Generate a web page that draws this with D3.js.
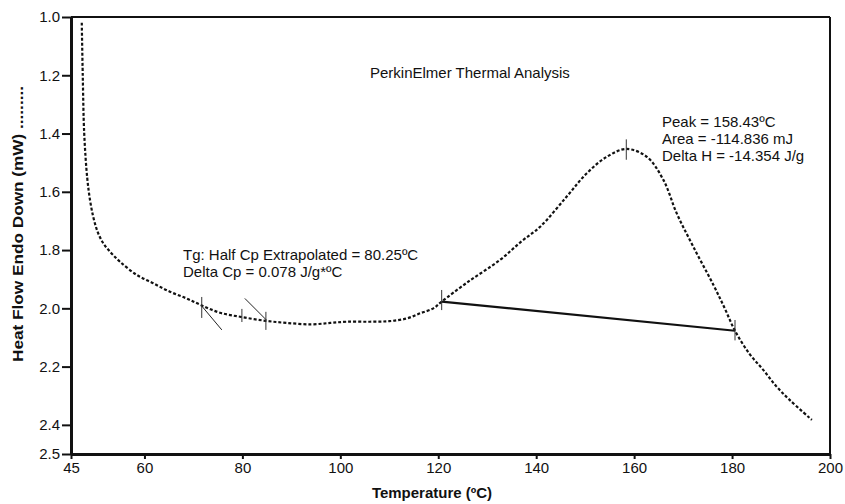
<!DOCTYPE html>
<html>
<head>
<meta charset="utf-8">
<script src="https://cdn.jsdelivr.net/npm/d3@7"></script>
<style>
  body { margin: 0; background: #fff; }
  svg { font-family: "Liberation Sans", Arial, sans-serif; }
</style>
</head>
<body>
<div id="chart"></div>
<script>
// Set dimensions of the page and the plot box
const width = 845;
const height = 504;
const margin = {left: 71, right: 15, top: 17, bottom: 50};

// DSC trace (temperature in ºC, heat flow in mW)
const temps = [47.2, 47.4, 47.7, 48.3, 48.9, 49.6, 50.5, 51.6, 53.2, 55.0, 58.4, 61.8, 65.2,
  68.6, 71.7, 75.4, 79.9, 84.8, 89.0, 94.0, 98.0, 101.3, 106, 110, 113.5, 116.3, 119.0,
  120.7, 126, 132.6, 137, 140.8, 146.2, 150.3, 154.4, 158.4, 162.6, 166.0, 168.7, 172.1,
  176.2, 178.5, 180.6, 183.5, 186.4, 189.0, 191.8, 196.3];
const heatFlow = [1.02, 1.20, 1.40, 1.55, 1.63, 1.69, 1.74, 1.777, 1.81, 1.84, 1.885, 1.914, 1.943,
  1.966, 1.99, 2.015, 2.030, 2.043, 2.050, 2.055, 2.050, 2.046, 2.046, 2.044, 2.035, 2.017, 2.000,
  1.977, 1.91, 1.834, 1.77, 1.72, 1.617, 1.537, 1.480, 1.453, 1.48, 1.56, 1.674, 1.789,
  1.920, 2.000, 2.077, 2.155, 2.212, 2.267, 2.315, 2.383];

// Peak baseline (onset -> end)
const baseT = [120.7, 180.6];
const baseH = [1.977, 2.077];

// Small vertical marker ticks: temperature, top and bottom heat flow
const markT = [71.7, 79.9, 84.8, 120.7, 158.4, 180.6];
const markTop = [1.961, 2.002, 2.012, 1.937, 1.42, 2.04];
const markBottom = [2.033, 2.047, 2.074, 2.006, 1.49, 2.11];

// Tg tangent lines: [t1, h1, t2, h2]
const tangents = [[71.7, 1.992, 75.8, 2.074], [80.5, 1.966, 84.9, 2.040]];

// Tick labels
const xTicks = [45, 60, 80, 100, 120, 140, 160, 180, 200];
const yTicks = [1.0, 1.2, 1.4, 1.6, 1.8, 2.0, 2.2, 2.4, 2.5];

const svg = d3.select("#chart")
  .append("svg")
  .attr("width", width)
  .attr("height", height);

// Scales
const x = d3.scaleLinear().domain([45, 200]).range([margin.left, width - margin.right]);
const y = d3.scaleLinear().domain([1.0, 2.5]).range([margin.top, height - margin.bottom]);

// Top and right frame lines
svg.append("line")
  .attr("x1", x(45)).attr("x2", x(200))
  .attr("y1", y(1.0)).attr("y2", y(1.0))
  .attr("stroke", "#111").attr("stroke-width", 2);
svg.append("line")
  .attr("x1", x(200)).attr("x2", x(200))
  .attr("y1", y(1.0)).attr("y2", y(2.5))
  .attr("stroke", "#111").attr("stroke-width", 2);

// Bottom axis
const xAxis = svg.append("g")
  .attr("transform", `translate(0,${y(2.5)})`)
  .call(d3.axisBottom(x).tickValues(xTicks).tickSize(5).tickPadding(3).tickSizeOuter(0));
xAxis.selectAll("text").attr("font-size", "15px").attr("fill", "#111");

// Left axis
const yAxis = svg.append("g")
  .attr("transform", `translate(${x(45)},0)`)
  .call(d3.axisLeft(y).tickValues(yTicks).tickFormat(d3.format(".1f"))
    .tickSize(9).tickPadding(2).tickSizeOuter(0));
yAxis.selectAll("text").attr("font-size", "15px").attr("fill", "#111");

svg.selectAll(".domain").attr("stroke", "#111").attr("stroke-width", 3);
svg.selectAll(".tick line").attr("stroke", "#111").attr("stroke-width", 2);

// Axis titles
svg.append("text")
  .attr("x", 432).attr("y", 498)
  .attr("text-anchor", "middle")
  .attr("font-size", "15px").attr("font-weight", "bold").attr("fill", "#111")
  .text("Temperature (ºC)");

svg.append("text")
  .attr("transform", "translate(23,224) rotate(-90)")
  .attr("text-anchor", "middle")
  .attr("font-size", "14px").attr("font-weight", "bold").attr("fill", "#111")
  .attr("textLength", 276).attr("lengthAdjust", "spacingAndGlyphs")
  .text("Heat Flow Endo Down (mW) .........");

// Dashed DSC trace
const line = d3.line()
  .x((d, i) => x(temps[i]))
  .y((d, i) => y(heatFlow[i]))
  .curve(d3.curveCatmullRom.alpha(0.5));

svg.append("path")
  .datum(temps)
  .attr("d", line)
  .attr("fill", "none")
  .attr("stroke", "#111")
  .attr("stroke-width", 2.2)
  .attr("stroke-dasharray", "3,2");

// Solid peak baseline
svg.append("line")
  .attr("x1", x(baseT[0])).attr("y1", y(baseH[0]))
  .attr("x2", x(baseT[1])).attr("y2", y(baseH[1]))
  .attr("stroke", "#111").attr("stroke-width", 2.2);

// Tangent lines for Tg
svg.selectAll(".tangent")
  .data(tangents)
  .enter()
  .append("line")
    .attr("class", "tangent")
    .attr("x1", d => x(d[0])).attr("y1", d => y(d[1]))
    .attr("x2", d => x(d[2])).attr("y2", d => y(d[3]))
    .attr("stroke", "#222").attr("stroke-width", 1);

// Vertical marker ticks
svg.selectAll(".mark")
  .data(markT)
  .enter()
  .append("line")
    .attr("class", "mark")
    .attr("x1", d => x(d)).attr("x2", d => x(d))
    .attr("y1", (d, i) => y(markTop[i]))
    .attr("y2", (d, i) => y(markBottom[i]))
    .attr("stroke", "#333").attr("stroke-width", 1);

// Annotations
const notes = [
  {t: "PerkinElmer Thermal Analysis", x: 370, y: 78},
  {t: "Peak = 158.43ºC", x: 662, y: 127},
  {t: "Area = -114.836 mJ", x: 662, y: 144},
  {t: "Delta H = -14.354 J/g", x: 662, y: 161},
  {t: "Tg: Half Cp Extrapolated = 80.25ºC", x: 183, y: 260},
  {t: "Delta Cp = 0.078 J/g*ºC", x: 183, y: 277}
];
svg.selectAll(".note")
  .data(notes)
  .enter()
  .append("text")
    .attr("class", "note")
    .attr("x", d => d.x).attr("y", d => d.y)
    .attr("font-size", "15px").attr("fill", "#111")
    .text(d => d.t);
</script>
</body>
</html>
